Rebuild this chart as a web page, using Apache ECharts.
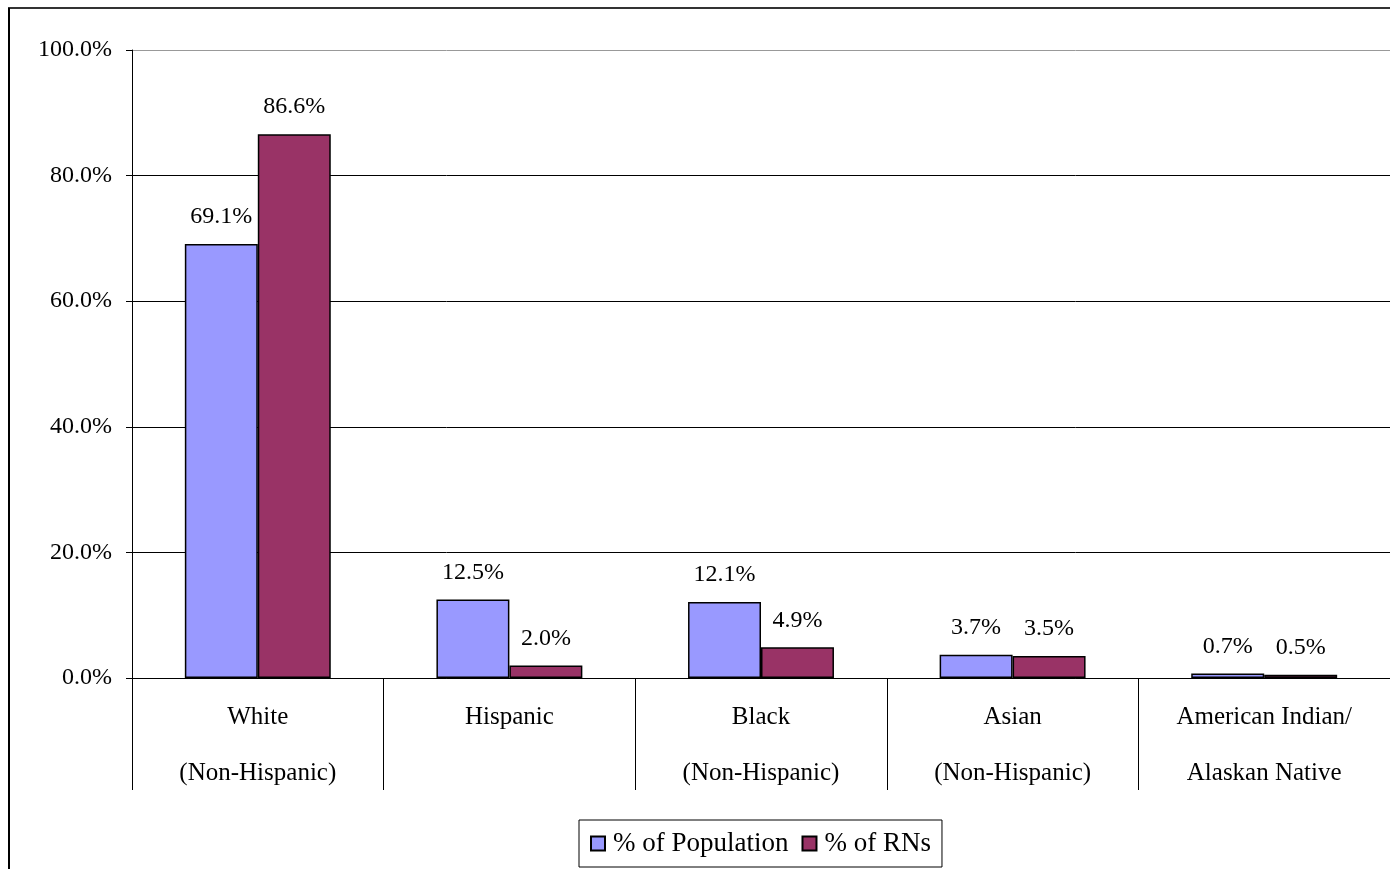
<!DOCTYPE html>
<html>
<head>
<meta charset="utf-8">
<script src="https://cdn.jsdelivr.net/npm/echarts@6/dist/echarts.min.js"></script>
<style>html,body{margin:0;padding:0;background:#fff}#c{width:1390px;height:869px}</style>
</head>
<body>
<div id="c"></div>
<script>
const categories = ['White\n(Non-Hispanic)', 'Hispanic', 'Black\n(Non-Hispanic)', 'Asian\n(Non-Hispanic)', 'American Indian/\nAlaskan Native'];
const seriesNames = ['% of Population', '% of RNs'];
const populationPct = [69.1, 12.5, 12.1, 3.7, 0.7];
const rnPct = [86.6, 2.0, 4.9, 3.5, 0.5];
const yTicks = [0, 20, 40, 60, 80, 100];

const FONT = '"Liberation Serif", "Times New Roman", serif';
const chart = echarts.init(document.getElementById('c'));
const labelStyle = {
  show: true, position: 'top', distance: 15,
  fontFamily: FONT, fontSize: 24, color: '#000',
  formatter: p => p.value.toFixed(1) + '%'
};
chart.setOption({
  animation: false,
  textStyle: { fontFamily: FONT },
  graphic: [
    { type: 'line', shape: { x1: 8, y1: 8, x2: 1390, y2: 8 }, style: { stroke: '#333', lineWidth: 2 }, z: 100 },
    { type: 'line', shape: { x1: 9, y1: 8, x2: 9, y2: 869 }, style: { stroke: '#000', lineWidth: 2 }, z: 100 }
  ],
  grid: { left: 132, top: 50, width: 1262.5, height: 628, containLabel: false },
  legend: {
    data: seriesNames,
    left: 579, top: 820,
    orient: 'horizontal',
    itemWidth: 14, itemHeight: 14, itemGap: 13,
    padding: [10, 11, 10, 11],
    borderColor: '#000', borderWidth: 1,
    textStyle: { fontFamily: FONT, fontSize: 27, color: '#000', padding: [0, 0, 0, 3] },
    icon: 'rect'
  },
  xAxis: {
    type: 'category',
    data: categories,
    axisLine: { show: true, lineStyle: { color: '#000', width: 1 } },
    axisTick: { show: true, length: 112, interval: 0, alignWithLabel: false, lineStyle: { color: '#000', width: 1 } },
    axisLabel: { interval: 0, margin: 11, fontFamily: FONT, fontSize: 25, lineHeight: 56, color: '#000' },
    splitLine: { show: false }
  },
  yAxis: {
    type: 'value',
    min: 0, max: 100, interval: 20,
    axisLine: { show: true, lineStyle: { color: '#000', width: 1 } },
    axisTick: { show: true, length: 6, lineStyle: { color: '#000' } },
    axisLabel: {
      margin: 20, fontFamily: FONT, fontSize: 24, color: '#000',
      formatter: v => yTicks.includes(v) ? v.toFixed(1) + '%' : ''
    },
    splitLine: { show: true, lineStyle: { color: ['#000', '#000', '#000', '#000', '#000', '#999'], width: 1 } }
  },
  series: [
    {
      name: seriesNames[0], type: 'bar', data: populationPct,
      barGap: '0%', barCategoryGap: '42%',
      itemStyle: { color: '#9999FF', borderColor: '#000', borderWidth: 1.5 },
      label: labelStyle
    },
    {
      name: seriesNames[1], type: 'bar', data: rnPct,
      barGap: '0%', barCategoryGap: '42%',
      itemStyle: { color: '#993366', borderColor: '#000', borderWidth: 1.5 },
      label: labelStyle
    }
  ]
});
</script>
</body>
</html>
